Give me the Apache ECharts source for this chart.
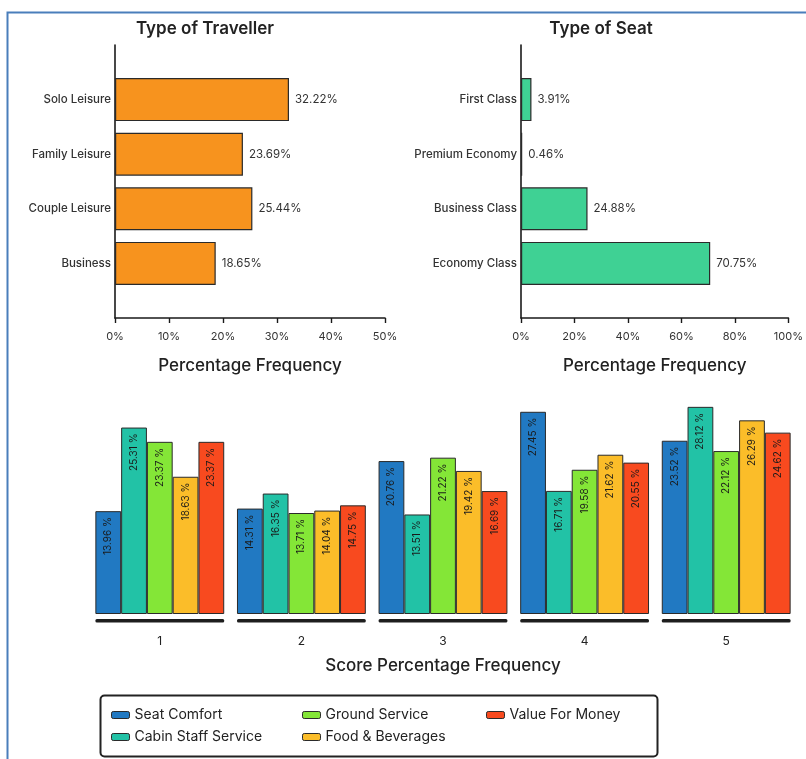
<!DOCTYPE html>
<html>
<head>
<meta charset="utf-8">
<script src="https://cdn.jsdelivr.net/npm/echarts@6/dist/echarts.min.js"></script>
<style>
html,body{margin:0;padding:0;background:#fff;}
#chart{width:806px;height:759px;}
</style>
</head>
<body>
<div id="chart"></div>
<script>
// ---- data ----
const travellerCats = ['Solo Leisure', 'Family Leisure', 'Couple Leisure', 'Business'];
const travellerVals = [32.22, 23.69, 25.44, 18.65];
const seatCats = ['First Class', 'Premium Economy', 'Business Class', 'Economy Class'];
const seatVals = [3.91, 0.46, 24.88, 70.75];
const travellerTicks = [0, 10, 20, 30, 40, 50];
const seatTicks = [0, 20, 40, 60, 80, 100];

const scoreCats = ['1', '2', '3', '4', '5'];
const seatComfort = [13.96, 14.31, 20.76, 27.45, 23.52];
const cabinStaff = [25.31, 16.35, 13.51, 16.71, 28.12];
const groundService = [23.37, 13.71, 21.22, 19.58, 22.12];
const foodBev = [18.63, 14.04, 19.42, 21.62, 26.29];
const valueMoney = [23.37, 14.75, 16.69, 20.55, 24.62];
const seriesNames = ['Seat Comfort', 'Cabin Staff Service', 'Ground Service', 'Food & Beverages', 'Value For Money'];

// ---- styles ----
const FONT = 'Inter, "Open Sans", sans-serif';
const scoreColors = ['#2179c2', '#22c2a6', '#84e637', '#fbbd29', '#f84a1f'];
const scoreData = [seatComfort, cabinStaff, groundService, foodBev, valueMoney];

const pad = arr => [''].concat(arr, ['']);
const padV = arr => ['-'].concat(arr, ['-']);

function topXAxis(gridIndex, ticks) {
  return {
    type: 'value', gridIndex: gridIndex,
    min: ticks[0], max: ticks[ticks.length - 1], interval: ticks[1] - ticks[0],
    axisLine: {show: true, onZero: false, lineStyle: {color: '#1a1a1a', width: 1.6}},
    axisTick: {show: true, length: 5, lineStyle: {color: '#1a1a1a', width: 1.4}},
    axisLabel: {formatter: '{value}%', color: '#333', fontSize: 11, fontFamily: FONT, margin: 13},
    splitLine: {show: false},
    name: 'Percentage Frequency', nameLocation: 'middle', nameGap: 39,
    nameTextStyle: {fontSize: 17, color: '#222', fontFamily: FONT, fontWeight: 500}
  };
}
function topYAxis(gridIndex, cats) {
  return {
    type: 'category', gridIndex: gridIndex, data: pad(cats), inverse: true, boundaryGap: false,
    axisLine: {show: true, lineStyle: {color: '#1a1a1a', width: 1.6}},
    axisTick: {show: false},
    axisLabel: {color: '#333', fontSize: 11.5, fontFamily: FONT, margin: 4, fontWeight: 500},
    splitLine: {show: false}
  };
}
function topSeries(idx, vals, color) {
  return {
    type: 'bar', xAxisIndex: idx, yAxisIndex: idx, data: padV(vals), barWidth: 43,
    itemStyle: {color: color, borderColor: '#2a2a2a', borderWidth: 1.2},
    label: {show: true, position: 'right', distance: 6, formatter: p => p.value + '%',
      color: '#333', fontSize: 11.5, fontFamily: FONT},
    silent: true
  };
}

const barSeries = seriesNames.map((n, i) => ({
  name: n, type: 'bar', xAxisIndex: 2, yAxisIndex: 2, data: scoreData[i],
  barGap: '0%', barCategoryGap: '9%',
  itemStyle: {color: scoreColors[i], borderColor: '#2a2a2a', borderWidth: 1},
  label: {show: true, position: 'insideTop', rotate: 90, align: 'right', verticalAlign: 'middle',
    distance: 6, formatter: p => p.value + ' %', color: '#1a1a1a', fontSize: 10, fontFamily: FONT},
  silent: true
}));

const underline = {
  type: 'custom', xAxisIndex: 2, yAxisIndex: 2, clip: false, silent: true,
  data: scoreCats.map((c, i) => [i, 0]),
  renderItem: function (params, api) {
    const c = api.coord([api.value(0), 0]);
    const w = api.size([1, 0])[0] * 0.91;
    return {type: 'rect', shape: {x: c[0] - w / 2, y: c[1] + 5, width: w, height: 3.5, r: 1.5},
      style: {fill: '#1e1e1e'}};
  }
};

const legendCommon = {
  orient: 'vertical', top: 703, itemWidth: 18, itemHeight: 7, itemGap: 8, icon: 'roundRect',
  textStyle: {fontSize: 14, color: '#222', fontFamily: FONT},
  itemStyle: {borderColor: '#2a2a2a', borderWidth: 1}
};

const option = {
  backgroundColor: '#fff',
  animation: false,
  title: [
    {text: 'Type of Traveller', left: 200, top: 15, textAlign: 'center',
      textStyle: {fontSize: 17, fontWeight: 600, color: '#222', fontFamily: FONT}},
    {text: 'Type of Seat', left: 596, top: 15, textAlign: 'center',
      textStyle: {fontSize: 17, fontWeight: 600, color: '#222', fontFamily: FONT}}
  ],
  grid: [
    {left: 115, top: 45, width: 270, height: 273},
    {left: 521, top: 45, width: 269, height: 273},
    {left: 89, right: 9, top: 393, height: 221}
  ],
  xAxis: [
    topXAxis(0, travellerTicks),
    topXAxis(1, seatTicks),
    {type: 'category', gridIndex: 2, data: scoreCats,
      axisLine: {show: false}, axisTick: {show: false},
      axisLabel: {color: '#222', fontSize: 12, fontFamily: FONT, margin: 21},
      name: 'Score Percentage Frequency', nameLocation: 'middle', nameGap: 43,
      nameTextStyle: {fontSize: 17, color: '#222', fontFamily: FONT, fontWeight: 500}}
  ],
  yAxis: [
    topYAxis(0, travellerCats),
    topYAxis(1, seatCats),
    {type: 'value', gridIndex: 2, min: 0, max: 30, show: false, splitLine: {show: false}}
  ],
  legend: [
    Object.assign({}, legendCommon, {left: 106, data: seriesNames.slice(0, 2)}),
    Object.assign({}, legendCommon, {left: 297, data: seriesNames.slice(2, 4)}),
    Object.assign({}, legendCommon, {left: 481, data: seriesNames.slice(4, 5)})
  ],
  graphic: [
    {type: 'rect', left: 5, top: 10, shape: {width: 830, height: 800},
      style: {fill: 'none', stroke: '#4a7ebb', lineWidth: 2}, silent: true},
    {type: 'rect', left: 98, top: 693, shape: {width: 557, height: 61, r: 4},
      style: {fill: 'none', stroke: '#222', lineWidth: 2}, silent: true}
  ],
  series: [
    topSeries(0, travellerVals, '#f7931e'),
    topSeries(1, seatVals, '#3fd194')
  ].concat(barSeries, [underline])
};

const chart = echarts.init(document.getElementById('chart'), null, {renderer: 'canvas'});
chart.setOption(option);
</script>
</body>
</html>
